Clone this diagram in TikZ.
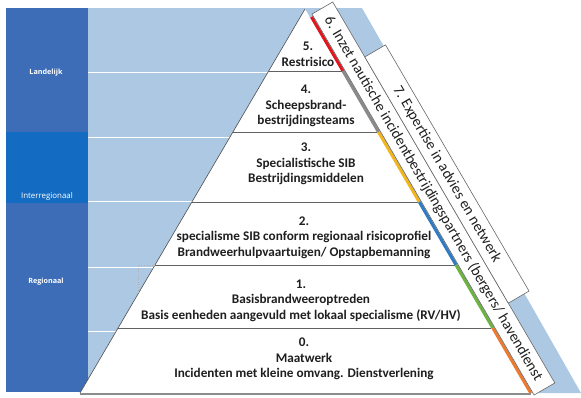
\documentclass[tikz,border=0pt]{standalone}
\usepackage{fontspec}
\setmainfont{Carlito}
\newfontfamily\labfont{Open Sans}
\definecolor{lightbg}{HTML}{ADC8E3}
\definecolor{darkcol}{HTML}{3D6DB6}
\definecolor{midcol}{HTML}{146CC2}
\definecolor{sred}{HTML}{E3161E}
\definecolor{sgray}{HTML}{8A8A8A}
\definecolor{sgold}{HTML}{F2B51C}
\definecolor{sblue}{HTML}{2F7BC4}
\definecolor{sgreen}{HTML}{6DB33F}
\definecolor{sorange}{HTML}{EE7A2E}
\begin{document}
\begin{tikzpicture}[x=1pt,y=-1pt,
  lvl/.style={font=\fontsize{13.2}{15.6}\selectfont\bfseries, align=center, text=black!88, inner sep=0pt},
  sidebox/.style={draw=black!60, fill=white, line width=0.6pt, rotate=-59.76, font=\fontsize{15}{17}\selectfont, inner sep=0pt, minimum height=24pt, text=black!88},
  collab/.style={text=white, inner sep=0pt},
  lvline/.style={draw=black!62, line width=0.8pt},
  stripe/.style={line width=3pt, line cap=butt},
  wline/.style={draw=white, line width=0.8pt}]

\fill[white] (0,0) rectangle (581,397);
\useasboundingbox (0,0) rectangle (581,397);

% light blue background band
\fill[lightbg] (88,8) -- (362,8) -- (581,393) -- (88,393) -- cycle;
\foreach \yy in {72,137,201,267,331} \draw[wline] (88,\yy) -- (300,\yy);

% left column
\fill[darkcol] (6,8) rectangle (88,132);
\fill[midcol] (6,132) rectangle (88,203);
\fill[darkcol] (6,203) rectangle (88,392);
\node[collab, font=\labfont\bfseries\fontsize{7.2}{8}\selectfont] (landelijk) at (46,73) {Landelijk};
\node[collab, font=\labfont\fontsize{7.9}{8}\selectfont] (interreg) at (47,196) {Interregionaal};
\node[collab, font=\labfont\bfseries\fontsize{7.2}{8}\selectfont] (regionaal) at (46,282) {Regionaal};

% pyramid
\fill[white] (305,9) -- (80,393) -- (531,393) -- cycle;
\draw[black!70, line width=0.6pt] (305,9) -- (80,393);
\draw[lvline] (268.7,71) -- (341.5,71);
\draw[lvline] (232.9,132) -- (377,132);
\draw[lvline] (191.9,202) -- (417.8,202);
\draw[lvline] (155.0,265) -- (454.5,265);
\draw[lvline] (118.1,328) -- (491.3,328);
\draw[draw=black!45, line width=1.6pt] (80,393.8) -- (531,393.8);
\draw[gray!60, dotted, line width=0.6pt] (155,265) -- (138,265) -- (138,294);

% coloured stripe
\draw[stripe, sred] (311.5,17) -- (343.0,71);
\draw[stripe, sgray] (343.0,71) -- (378.5,132);
\draw[stripe, sgold] (378.5,132) -- (419.3,202);
\draw[stripe, sblue] (419.3,202) -- (456.0,265);
\draw[stripe, sgreen] (456.0,265) -- (492.8,328);
\draw[stripe, sorange] (492.8,328) -- (530.7,393);

% level texts
\node[lvl] (l5) at (308,54) {5.\\Restrisico};
\node[lvl] (l4) at (306,106) {4.\\Scheepsbrand-\\bestrijdingsteams};
\node[lvl] (l3) at (306,164) {3.\\Specialistische SIB\\Bestrijdingsmiddelen};
\node[lvl] (l2) at (304,237.5) {2.\\specialisme SIB conform regionaal risicoprofiel\\Brandweerhulpvaartuigen/ Opstapbemanning};
\node[lvl] (l1) at (301,300.5) {1.\\Basisbrandweeroptreden\\Basis eenheden aangevuld met lokaal specialisme (RV/HV)};
\node[lvl] (l0) at (304,359) {0.\\Maatwerk\\Incidenten met kleine omvang. Dienstverlening};

% side boxes
\node[sidebox, minimum width=441pt] (box6) at (433.4,198.5) {6. Inzet nautische incidentbestrijdingspartners (bergers/ havendienst};
\node[sidebox, minimum width=285pt] (box7) at (446.9,174) {7. Expertise in advies en netwerk};
\end{tikzpicture}
\end{document}
